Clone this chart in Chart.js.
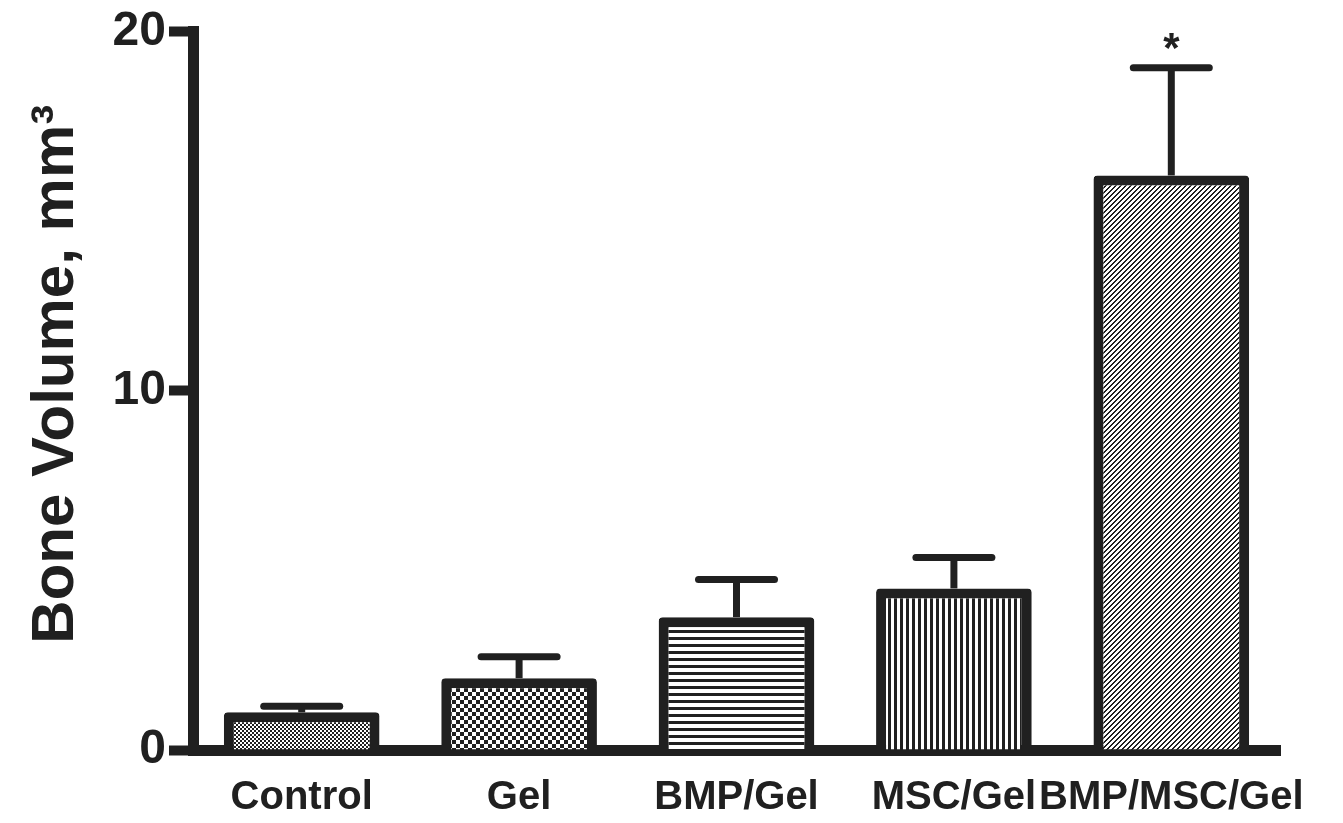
<!DOCTYPE html>
<html>
<head>
<meta charset="utf-8">
<script src="https://cdn.jsdelivr.net/npm/chart.js@4.4.1/dist/chart.umd.min.js"></script>
<style>
    html, body { margin: 0; padding: 0; background: #fff; }
    #wrap { width: 1343px; height: 823px; position: relative; }
</style>
</head>
<body>
<div id="wrap"><canvas id="boneChart"></canvas></div>
<script>
// values
const groups = ['Control', 'Gel', 'BMP/Gel', 'MSC/Gel', 'BMP/MSC/Gel'];
const boneVolume = [1.05, 2.0, 3.7, 4.5, 16.0];
const sem = [0.17, 0.6, 1.05, 0.86, 3.0];
const marks = ['', '', '', '', '*'];
const yTicks = [0, 10, 20];

const ink = '#202020';
const fontFamily = '"Liberation Sans", Arial, sans-serif';

/**
 * small pixel tiles used as bar fills
 */
function makePattern(kind)
{
    const sizes = {dots: 4, checker: 8, hlines: 7, vlines: 6, diag: 5};
    const n = sizes[kind];
    const c = document.createElement('canvas');
    c.width = n;
    c.height = n;
    const g = c.getContext('2d');
    g.fillStyle = '#fff';
    g.fillRect(0, 0, n, n);
    g.fillStyle = ink;
    for (let x = 0; x < n; x++) {
        for (let y = 0; y < n; y++) {
            let on = false;
            if (kind === 'dots') on = ((Math.floor(x / 2) + Math.floor(y / 2)) % 2) === 0;
            if (kind === 'checker') on = ((Math.floor(x / 4) + Math.floor(y / 4)) % 2) === 0;
            if (kind === 'hlines') on = y < 3;
            if (kind === 'vlines') on = x < 3;
            if (kind === 'diag') on = ((x + y) % n) < 2;
            if (on) g.fillRect(x, y, 1, 1);
        }
    }
    return g.createPattern(c, 'repeat');
}

const fills = ['dots', 'checker', 'hlines', 'vlines', 'diag'].map(makePattern);

// SEM whiskers and significance marks, placed with the y scale
const errorBars = {
    id: 'errorBars',
    afterDatasetsDraw(chart) {
        const ctx = chart.ctx;
        const yScale = chart.scales.y;
        const meta = chart.getDatasetMeta(0);
        ctx.save();
        ctx.strokeStyle = ink;
        ctx.fillStyle = ink;
        meta.data.forEach((bar, i) => {
            const top = yScale.getPixelForValue(boneVolume[i]);
            const tip = yScale.getPixelForValue(boneVolume[i] + sem[i]);
            ctx.lineWidth = 7;
            ctx.lineCap = 'butt';
            ctx.beginPath();
            ctx.moveTo(bar.x, top);
            ctx.lineTo(bar.x, tip);
            ctx.stroke();
            ctx.lineCap = 'round';
            ctx.beginPath();
            ctx.moveTo(bar.x - 38, tip);
            ctx.lineTo(bar.x + 38, tip);
            ctx.stroke();
            if (marks[i]) {
                ctx.font = 'bold 42px ' + fontFamily;
                ctx.textAlign = 'center';
                ctx.textBaseline = 'alphabetic';
                ctx.fillText(marks[i], bar.x, tip - 6);
            }
        });
        ctx.restore();
    }
};

const chartData = {
    labels: groups,
    datasets: [{
        data: boneVolume,
        backgroundColor: fills,
        borderColor: ink,
        borderWidth: 10,
        borderSkipped: 'start',
        borderRadius: 4,
        barPercentage: 0.716,
        categoryPercentage: 1.0
    }]
};

const config = {
    type: 'bar',
    data: chartData,
    plugins: [errorBars],
    options: {
        responsive: true,
        maintainAspectRatio: false,
        animation: false,
        layout: {
            padding: {left: 0, right: 63, top: 30, bottom: 0}
        },
        plugins: {
            legend: {display: false},
            tooltip: {enabled: false}
        },
        scales: {
            x: {
                z: 1,
                grid: {display: false, drawTicks: false},
                border: {display: true, color: ink, width: 11},
                ticks: {
                    color: ink,
                    padding: 24,
                    maxRotation: 0,
                    autoSkip: false,
                    font: {family: fontFamily, size: 40, weight: 'bold'}
                },
                afterFit(scale) {
                    scale.height = 73;
                }
            },
            y: {
                min: 0,
                max: 20,
                afterBuildTicks(scale) {
                    scale.ticks = yTicks.map(v => ({value: v}));
                },
                grid: {
                    drawOnChartArea: false,
                    drawTicks: true,
                    tickLength: 24,
                    tickWidth: 10,
                    tickColor: ink
                },
                border: {display: true, color: ink, width: 11},
                ticks: {
                    color: ink,
                    padding: 3,
                    font: {family: fontFamily, size: 48, weight: 'bold'}
                },
                title: {
                    display: true,
                    text: '\u00a0\u00a0Bone Volume, mm\u00b3',
                    color: ink,
                    padding: {top: 26, bottom: 0},
                    font: {family: fontFamily, size: 60, weight: 'bold', lineHeight: 1}
                },
                afterFit(scale) {
                    scale.width = 193;
                }
            }
        }
    }
};

const ctx = document.getElementById('boneChart').getContext('2d');
new Chart(ctx, config);
</script>
</body>
</html>
